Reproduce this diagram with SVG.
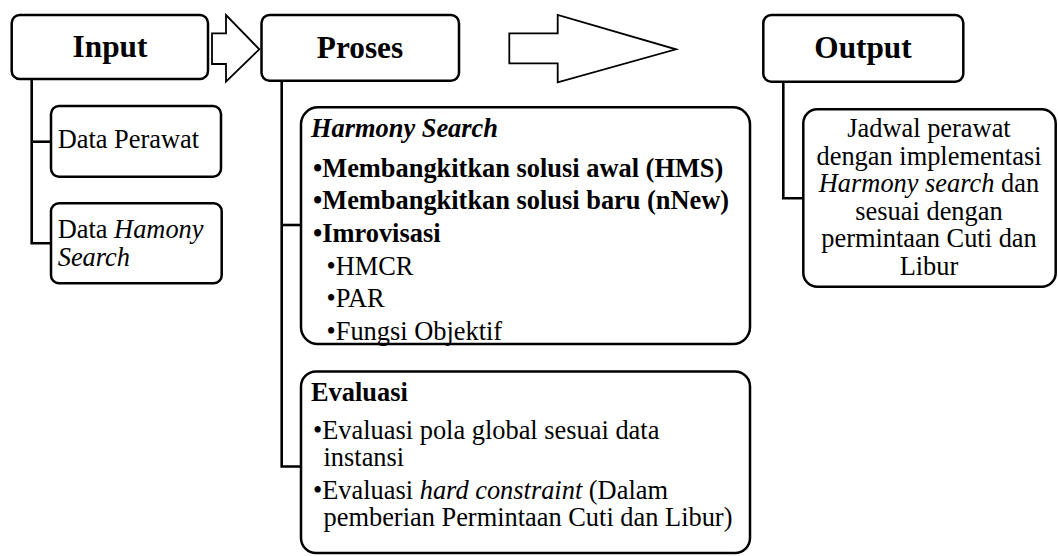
<svg xmlns="http://www.w3.org/2000/svg" width="1058" height="556" viewBox="0 0 1058 556">
<style>
.box{fill:#fff;stroke:#000;stroke-width:2.5}
.arrow{fill:#fff;stroke:#000;stroke-width:1.8;stroke-linejoin:miter}
.conn{fill:none;stroke:#000;stroke-width:2.6}
text{font-family:"Liberation Serif","Times New Roman",serif;fill:#000}
.h{font-size:31.3px;font-weight:bold;text-anchor:middle}
.t{font-size:26.4px}
.b{font-weight:bold}
.i{font-style:italic}
.c{text-anchor:middle}
</style>
<rect width="1058" height="556" fill="#fff"/>
<g id="connectors">
<polyline class="conn" points="31.7,79 31.7,243.3 51,243.3"/>
<line class="conn" x1="31.7" y1="141.7" x2="51" y2="141.7"/>
<polyline class="conn" points="281.7,81 281.7,466.5 301,466.5"/>
<line class="conn" x1="281.7" y1="225" x2="301" y2="225"/>
<polyline class="conn" points="783.3,82 783.3,198.3 803.3,198.3"/>
<polygon class="arrow" points="212,33.3 226,33.3 226,15 259.3,49.3 226,81.7 226,64 212,64"/>
<polygon class="arrow" points="509.3,33.3 557.7,33.3 557.7,15 676,49.3 557.7,82.3 557.7,63.3 509.3,63.3"/>
</g>
<g id="input">
<rect class="box" x="11.7" y="15" width="196.3" height="64" rx="8"/>
<text class="h" x="110" y="57">Input</text>
</g>
<g id="data-perawat">
<rect class="box" x="51" y="106" width="170" height="70.7" rx="8"/>
<text class="t" x="57.7" y="148.3">Data Perawat</text>
</g>
<g id="data-hamony">
<rect class="box" x="51" y="203.3" width="170.7" height="80" rx="8"/>
<text class="t" x="57.7" y="238.3">Data <tspan class="i">Hamony</tspan></text>
<text class="t i" x="57.7" y="266">Search</text>
</g>
<g id="proses">
<rect class="box" x="261.5" y="15" width="197.5" height="65.7" rx="8"/>
<text class="h" x="360" y="58">Proses</text>
</g>
<g id="harmony-search">
<rect class="box" x="301" y="107.3" width="449" height="236.7" rx="17"/>
<text class="t b i" x="311" y="137">Harmony Search</text>
<text class="t b" x="313" y="176.5">•Membangkitkan solusi awal (HMS)</text>
<text class="t b" x="313" y="209.3">•Membangkitkan solusi baru (nNew)</text>
<text class="t b" x="313" y="242">•Imrovisasi</text>
<text class="t" x="326.5" y="274.5">•HMCR</text>
<text class="t" x="326.5" y="307">•PAR</text>
<text class="t" x="326.5" y="339.5">•Fungsi Objektif</text>
</g>
<g id="evaluasi">
<rect class="box" x="301" y="371.5" width="449" height="181.5" rx="15"/>
<text class="t b" x="311" y="400.7">Evaluasi</text>
<text class="t" x="313" y="439.3">•Evaluasi pola global sesuai data</text>
<text class="t" x="323.5" y="466">instansi</text>
<text class="t" x="313" y="499.3">•Evaluasi <tspan class="i">hard constraint</tspan> (Dalam</text>
<text class="t" x="323.5" y="525.5">pemberian Permintaan Cuti dan Libur)</text>
</g>
<g id="output">
<rect class="box" x="763.3" y="15" width="200" height="66.7" rx="8"/>
<text class="h" x="863" y="58">Output</text>
</g>
<g id="jadwal">
<rect class="box" x="803.3" y="109.3" width="252.4" height="177.4" rx="14"/>
<text class="t c" x="929" y="137">Jadwal perawat</text>
<text class="t c" x="929" y="164.6">dengan implementasi</text>
<text class="t c" x="929" y="192.2"><tspan class="i">Harmony search</tspan> dan</text>
<text class="t c" x="929" y="219.8">sesuai dengan</text>
<text class="t c" x="929" y="247.4">permintaan Cuti dan</text>
<text class="t c" x="929" y="275">Libur</text>
</g>
</svg>
